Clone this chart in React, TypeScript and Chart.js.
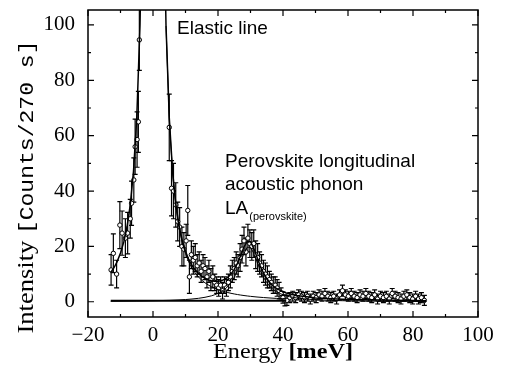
import React, { useEffect, useRef } from "react";
import { Chart, registerables } from "chart.js";

Chart.register(...registerables);

// ---- measured data points (energy in meV, intensity in counts/270 s, error bar half-height)
const dataEnergy = [
  -12.9, -12.2, -11.2, -10.2, -9.5, -8.5, -7.8, -7.0, -6.6, -5.9, -5.5, -4.9, -4.5, -4.2,
  5.0, 5.7, 6.3, 7.0, 7.6, 8.2, 8.9, 9.5, 10.2, 10.7, 11.2,
  11.8, 12.4, 13.0, 13.6, 14.2, 14.8, 15.4, 16.0, 16.6, 17.2, 17.8, 18.4, 19.0, 19.6, 20.2,
  20.8, 21.4, 22.0, 22.6, 23.2, 23.8, 24.4, 25.0, 25.6, 26.2, 26.8, 27.4, 28.0, 28.6, 29.2,
  29.8, 30.4, 31.0, 31.6, 32.2, 32.8, 33.4, 34.0, 34.6, 35.2, 35.8, 36.4, 37.0, 37.6, 38.2,
  38.8, 39.4, 40.0, 40.6,
  41.2, 42.1, 43.0, 43.9, 44.8, 45.7, 46.6, 47.5, 48.4, 49.3, 50.2, 51.1, 52.0, 52.9, 53.8,
  54.7, 55.6, 56.5, 57.4, 58.3, 59.2, 60.1, 61.0, 61.9, 62.8, 63.7, 64.6, 65.5, 66.4, 67.3,
  68.2, 69.1, 70.0, 70.9, 71.8, 72.7, 73.6, 74.5, 75.4, 76.3, 77.2, 78.1, 79.0, 79.9, 80.8,
  81.7, 82.6, 83.5,
];
const dataIntensity = [
  11.5, 17.5, 10, 27.7, 24.8, 23, 24.8, 30, 35.6, 44, 56, 58.6, 65, 94.6,
  63, 41, 40, 35, 29, 27, 20, 19, 22, 33, 9,
  17, 15, 16, 13, 14, 11, 13, 12, 9, 11, 8, 9, 7, 6, 5,
  6, 4, 6, 5, 7, 9, 11, 12, 14, 13, 16, 19, 22, 18, 23,
  21, 20, 21, 17, 16, 14, 13, 11, 10, 9, 8, 7, 6, 6, 5,
  4, 3, 1.5, 0.5,
  0.5, 1.5, 2.0, 1.5, 2.5, 2.0, 1.5, 2.0, 1.0, 2.0, 1.5, 2.5, 2.0, 3.0, 2.0,
  1.5, 2.0, 1.0, 2.5, 4.0, 2.5, 2.0, 3.0, 2.0, 1.5, 2.5, 2.0, 3.0, 2.0, 1.5,
  2.5, 1.0, 2.0, 1.5, 2.0, 1.0, 3.0, 2.0, 1.5, 1.0, 2.0, 2.5, 1.5, 1.0, 2.0,
  1.0, 1.5, 0.5,
];
const dataError = [
  5.5, 7, 5, 8.5, 8, 7, 7.5, 7, 8, 8, 10, 10, 11, 11,
  12, 10, 10, 8, 7, 7, 7, 6, 6, 9, 6,
  5, 5, 5, 4, 4, 4, 4, 4, 4, 4, 4, 4, 3, 3, 3,
  3, 3, 3, 3, 3, 4, 4, 4, 4, 4, 5, 5, 5, 5, 5,
  5, 5, 5, 5, 5, 4, 4, 4, 4, 4, 3, 3, 3, 3, 3,
  3, 2, 2, 2,
  1.8, 1.8, 1.8, 1.8, 1.8, 1.8, 1.8, 1.8, 1.8, 1.8, 1.8, 1.8, 1.8, 1.8, 1.8,
  1.8, 1.8, 1.8, 1.8, 2.0, 1.8, 1.8, 1.8, 1.8, 1.8, 1.8, 1.8, 1.8, 1.8, 1.8,
  1.8, 1.8, 1.8, 1.8, 1.8, 1.8, 1.8, 1.8, 1.8, 1.8, 1.8, 1.8, 1.8, 1.8, 1.8,
  1.8, 1.8, 1.8,
];

// ---- total fit (elastic line + LA phonon)
const fitEnergy = [
  -13, -12, -11, -10, -9, -8, -7, -6, -5, -4, -3, -2, -1, 0, 1, 2, 3, 4, 5, 6, 7, 8, 9, 10,
  11, 12, 13, 14, 15, 16, 17, 18, 19, 20, 21, 22, 23, 24, 25, 26, 27, 28, 29, 30, 31, 32, 33,
  34, 35, 36, 37, 38, 39, 40, 41, 42, 44, 46, 48, 50, 55, 60, 70, 84,
];
const fitIntensity = [
  10.6, 12.3, 14.6, 17.6, 21.6, 27.1, 35.0, 47.1, 66.4, 99.9, 164, 307, 639, 1000, 639, 307, 164,
  99.9, 66.6, 47.4, 35.4, 27.6, 22.1, 18.2, 15.3, 13.1, 11.5, 10.2, 9.2, 8.5, 7.9, 7.6, 7.4, 7.4,
  7.6, 8.1, 8.8, 10.0, 11.7, 13.9, 16.8, 19.8, 21.8, 21.7, 19.3, 16.1, 12.9, 10.4, 8.4, 6.9, 5.7,
  4.8, 4.2, 3.7, 3.2, 2.9, 2.3, 2.0, 1.7, 1.4, 1.1, 0.8, 0.6, 0.4,
];

// ---- LA phonon component
const phononEnergy = [
  -13, -5, 0, 5, 8, 10, 12, 14, 16, 18, 19, 20, 21, 22, 23, 24, 25, 26, 27, 28, 29, 30, 31, 32,
  33, 34, 35, 36, 37, 38, 39, 40, 41, 42, 44, 46, 50, 55, 60, 70, 84,
];
const phononIntensity = [
  0.18, 0.27, 0.37, 0.52, 0.67, 0.81, 1.0, 1.25, 1.62, 2.15, 2.55, 3.01, 3.61, 4.43, 5.5, 6.92,
  8.83, 11.3, 14.4, 17.5, 19.7, 19.7, 17.5, 14.4, 11.3, 8.83, 6.92, 5.5, 4.43, 3.61, 3.01, 2.55,
  2.15, 1.86, 1.41, 1.11, 0.73, 0.48, 0.34, 0.19, 0.11,
];

// ---- elastic line tail component
const elasticEnergy = [
  4, 5, 6, 7, 8, 9, 10, 11, 12, 13, 14, 15, 16, 17, 18, 19, 20, 21, 22, 23, 24, 25, 26, 27, 28,
  29, 30, 32, 34, 36, 38, 40, 41,
];
const elasticIntensity = [
  99.6, 66.1, 46.8, 34.8, 26.9, 21.4, 17.4, 14.4, 12.1, 10.4, 8.94, 7.8, 6.86, 6.08, 5.43, 4.88,
  4.4, 4.0, 3.64, 3.33, 3.06, 2.82, 2.61, 2.42, 2.25, 2.1, 1.96, 1.72, 1.53, 1.36, 1.22, 1.1, 1.05,
];

// ---- background line
const baselineEnergy = [-13, 41];
const baselineIntensity = [0.4, 0.4];

// ---- axes
const xMin = -20;
const xMax = 100;
const yMin = -5.5;
const yMax = 105.4;
const xTickValues = [-20, 0, 20, 40, 60, 80, 100];
const xMinorTickValues = [-10, 10, 30, 50, 70, 90];
const yTickValues = [0, 20, 40, 60, 80, 100];
const yMinorTickValues = [10, 30, 50, 70, 90];

const xTitleMain = "Energy ";
const xTitleUnit = "[meV]";
const yTitleMain = "Intensity ";
const yTitleUnit = "[Counts/270 s]";

const labelElastic = "Elastic line";
const labelPhonon1 = "Perovskite longitudinal";
const labelPhonon2 = "acoustic phonon";
const labelPhonon3 = "LA";
const labelPhononSub = "(perovskite)";

const pts = (xs: number[], ys: number[]) => xs.map((x, i) => ({ x, y: ys[i] }));

function drawFitted(
  ctx: CanvasRenderingContext2D,
  parts: { text: string; font: string }[],
  targetWidth: number
) {
  const widths = parts.map((p) => {
    ctx.font = p.font;
    return ctx.measureText(p.text).width;
  });
  const total = widths.reduce((a, b) => a + b, 0);
  ctx.scale(targetWidth / total, 1);
  let x = -total / 2;
  parts.forEach((p, i) => {
    ctx.font = p.font;
    ctx.fillText(p.text, x, 0);
    x += widths[i];
  });
}

const decorPlugin = {
  id: "decor",
  beforeDatasetsDraw(chart: any) {
    const { ctx, chartArea: a, scales } = chart;
    const xs = scales.x;
    const ys = scales.y;
    ctx.save();
    ctx.beginPath();
    ctx.rect(a.left, a.top, a.right - a.left, a.bottom - a.top);
    ctx.clip();
    ctx.strokeStyle = "#000";
    ctx.lineWidth = 1.2;
    const half = 2.5;
    dataEnergy.forEach((e, i) => {
      const x = xs.getPixelForValue(e);
      const y1 = ys.getPixelForValue(dataIntensity[i] - dataError[i]);
      const y2 = ys.getPixelForValue(dataIntensity[i] + dataError[i]);
      ctx.beginPath();
      ctx.moveTo(x, y1);
      ctx.lineTo(x, y2);
      ctx.moveTo(x - half, y1);
      ctx.lineTo(x + half, y1);
      ctx.moveTo(x - half, y2);
      ctx.lineTo(x + half, y2);
      ctx.stroke();
    });
    ctx.restore();
  },
  afterDraw(chart: any) {
    const { ctx, chartArea: a, scales } = chart;
    const xs = scales.x;
    const ys = scales.y;
    ctx.save();
    ctx.strokeStyle = "#000";
    ctx.lineWidth = 1.5;
    ctx.strokeRect(a.left, a.top, a.right - a.left, a.bottom - a.top);
    ctx.lineWidth = 1.2;
    const tick = (vals: number[], len: number, isX: boolean) => {
      vals.forEach((v) => {
        ctx.beginPath();
        if (isX) {
          const x = xs.getPixelForValue(v);
          ctx.moveTo(x, a.bottom);
          ctx.lineTo(x, a.bottom - len);
          ctx.moveTo(x, a.top);
          ctx.lineTo(x, a.top + len);
        } else {
          const y = ys.getPixelForValue(v);
          ctx.moveTo(a.left, y);
          ctx.lineTo(a.left + len, y);
          ctx.moveTo(a.right, y);
          ctx.lineTo(a.right - len, y);
        }
        ctx.stroke();
      });
    };
    tick(xTickValues, 6, true);
    tick(xMinorTickValues, 3, true);
    tick(yTickValues, 6, false);
    tick(yMinorTickValues, 3, false);

    ctx.fillStyle = "#000";
    ctx.textBaseline = "alphabetic";
    ctx.textAlign = "left";

    // x axis title
    ctx.save();
    ctx.translate((a.left + a.right) / 2, 358);
    drawFitted(
      ctx,
      [
        { text: xTitleMain, font: "22px 'Liberation Serif'" },
        { text: xTitleUnit, font: "bold 22px 'Liberation Serif'" },
      ],
      140
    );
    ctx.restore();

    // y axis title
    ctx.save();
    ctx.translate(33, 187);
    ctx.rotate(-Math.PI / 2);
    drawFitted(
      ctx,
      [
        { text: yTitleMain, font: "23px 'Liberation Serif'" },
        { text: yTitleUnit, font: "20px 'Liberation Mono'" },
      ],
      293
    );
    ctx.restore();

    // annotations
    ctx.font = "19px 'Liberation Sans'";
    ctx.fillText(labelElastic, 177, 34);
    ctx.fillText(labelPhonon1, 225, 167);
    ctx.fillText(labelPhonon2, 225, 190);
    ctx.fillText(labelPhonon3, 225, 214);
    const laW = ctx.measureText(labelPhonon3).width;
    ctx.font = "11px 'Liberation Sans'";
    ctx.fillText(labelPhononSub, 225 + laW + 1, 220);
    ctx.restore();
  },
};

const tickFont = { family: "'Liberation Serif'", size: 21 };
const fmt = (v: number) => (v < 0 ? "\u2212" + Math.abs(v) : String(v));

export default function App() {
  const ref = useRef<HTMLCanvasElement>(null);
  useEffect(() => {
    if (!ref.current) return;
    const chart = new Chart(ref.current, {
      type: "scatter",
      data: {
        datasets: [
          {
            type: "line",
            data: pts(baselineEnergy, baselineIntensity),
            borderColor: "#000",
            borderWidth: 2,
            pointRadius: 0,
            tension: 0,
          },
          {
            type: "line",
            data: pts(phononEnergy, phononIntensity),
            borderColor: "#000",
            borderWidth: 1,
            pointRadius: 0,
            tension: 0,
          },
          {
            type: "line",
            data: pts(elasticEnergy, elasticIntensity),
            borderColor: "#000",
            borderWidth: 1,
            pointRadius: 0,
            tension: 0,
          },
          {
            type: "line",
            data: pts(fitEnergy, fitIntensity),
            borderColor: "#000",
            borderWidth: 1.5,
            pointRadius: 0,
            tension: 0,
          },
          {
            type: "scatter",
            data: pts(dataEnergy, dataIntensity),
            pointRadius: 2.2,
            pointBackgroundColor: "#fff",
            pointBorderColor: "#000",
            pointBorderWidth: 1,
            showLine: false,
          },
        ],
      } as any,
      options: {
        animation: false,
        responsive: false,
        devicePixelRatio: 1,
        layout: { padding: { left: 0, right: 27, top: 10, bottom: 0 } },
        plugins: { legend: { display: false }, tooltip: { enabled: false } },
        scales: {
          x: {
            type: "linear",
            min: xMin,
            max: xMax,
            grid: { display: false, drawTicks: false },
            border: { display: false },
            afterFit: (s: any) => {
              s.height = 58;
              s.paddingLeft = 0;
              s.paddingRight = 0;
            },
            afterBuildTicks: (s: any) => {
              s.ticks = xTickValues.map((v) => ({ value: v }));
            },
            ticks: {
              font: tickFont,
              color: "#000",
              padding: 6,
              maxRotation: 0,
              autoSkip: false,
              callback: (v: any) => fmt(Number(v)),
            },
          },
          y: {
            type: "linear",
            min: yMin,
            max: yMax,
            grid: { display: false, drawTicks: false },
            border: { display: false },
            afterFit: (s: any) => {
              s.width = 88;
              s.paddingTop = 0;
              s.paddingBottom = 0;
            },
            afterBuildTicks: (s: any) => {
              s.ticks = yTickValues.map((v) => ({ value: v }));
            },
            ticks: {
              font: tickFont,
              color: "#000",
              padding: 13,
              autoSkip: false,
              callback: (v: any) => fmt(Number(v)),
            },
          },
        },
      } as any,
      plugins: [decorPlugin],
    });
    return () => chart.destroy();
  }, []);
  return (
    <div
      style={{
        position: "absolute",
        left: 0,
        top: 0,
        width: 505,
        height: 375,
        background: "#fff",
      }}
    >
      <canvas ref={ref} width={505} height={375} style={{ width: 505, height: 375 }} />
    </div>
  );
}
